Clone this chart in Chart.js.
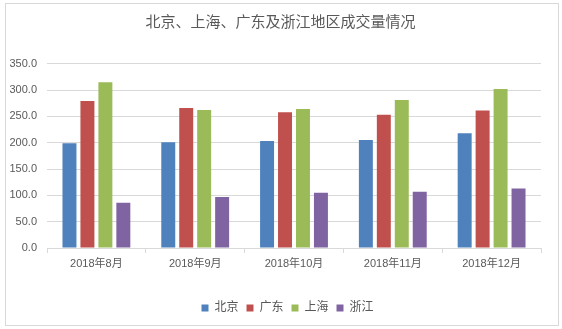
<!DOCTYPE html>
<html>
<head>
<meta charset="utf-8">
<script src="https://cdn.jsdelivr.net/npm/chart.js@4/dist/chart.umd.min.js"></script>
<style>
  html, body { margin: 0; padding: 0; background: #fff; }
  #wrap { position: relative; width: 562px; height: 329px; }
  #frame { position: absolute; left: 5px; top: 3px; width: 552px; height: 321px; border: 1px solid #d9d9d9; pointer-events: none; }
  canvas { position: absolute; left: 0; top: 0; }
</style>
</head>
<body>
<div id="wrap">
  <canvas id="c" width="562" height="329"></canvas>
  <div id="frame"></div>
</div>
<script>
const months = ['2018年8月', '2018年9月', '2018年10月', '2018年11月', '2018年12月'];
const beijing = [199, 201, 203, 205, 218];
const guangdong = [279, 266, 258, 253, 261];
const shanghai = [315, 262, 264, 281, 302];
const zhejiang = [86, 97, 105, 107, 113];
const yTicks = [0, 50, 100, 150, 200, 250, 300, 350];

const FONT = "'Liberation Sans', 'Noto Sans CJK SC', sans-serif";
const TEXT = '#595959';
const GRID = '#d9d9d9';

// Re-centre the title across the full frame and the legend under the plot
const blockShift = {
  id: 'blockShift',
  afterLayout(chart) {
    const lg = chart.legend;
    if (lg) { lg.left += 17; lg.right += 17; }
    const tb = chart.titleBlock;
    if (tb) { tb.left += 10; tb.right += 10; }
  }
};

new Chart(document.getElementById('c'), {
  type: 'bar',
  data: {
    labels: months,
    datasets: [
      { label: '北京', data: beijing, backgroundColor: '#4F81BD' },
      { label: '广东', data: guangdong, backgroundColor: '#C0504D' },
      { label: '上海', data: shanghai, backgroundColor: '#9BBB59' },
      { label: '浙江', data: zhejiang, backgroundColor: '#8064A2' }
    ]
  },
  plugins: [blockShift],
  options: {
    responsive: false,
    animation: false,
    devicePixelRatio: 1,
    datasets: { bar: { categoryPercentage: 0.727, barPercentage: 0.778 } },
    layout: { padding: { left: 0, right: 21, top: 0, bottom: 5 } },
    plugins: {
      title: {
        display: true,
        text: '北京、上海、广东及浙江地区成交量情况',
        color: TEXT,
        font: { family: FONT, size: 15, weight: 'normal', lineHeight: 1.2 },
        padding: { top: 14, bottom: 31.7 }
      },
      legend: {
        position: 'bottom',
        labels: {
          color: TEXT,
          font: { family: FONT, size: 12 },
          boxWidth: 7,
          boxHeight: 7,
          padding: 8
        }
      },
      tooltip: { enabled: false }
    },
    scales: {
      x: {
        grid: { offset: true, drawOnChartArea: false, color: GRID, tickLength: 5 },
        border: { color: GRID },
        ticks: { color: TEXT, font: { family: FONT, size: 11 }, maxRotation: 0, padding: 4 },
        afterFit: s => { s.height = 46; }
      },
      y: {
        min: 0,
        max: 350,
        afterBuildTicks: s => { s.ticks = yTicks.map(v => ({ value: v })); },
        grid: { color: GRID, drawTicks: false },
        border: { display: false },
        ticks: {
          color: TEXT,
          font: { family: FONT, size: 11 },
          padding: 10,
          callback: v => Number(v).toFixed(1)
        },
        afterFit: s => { s.width = 47; }
      }
    }
  }
});
</script>
</body>
</html>
